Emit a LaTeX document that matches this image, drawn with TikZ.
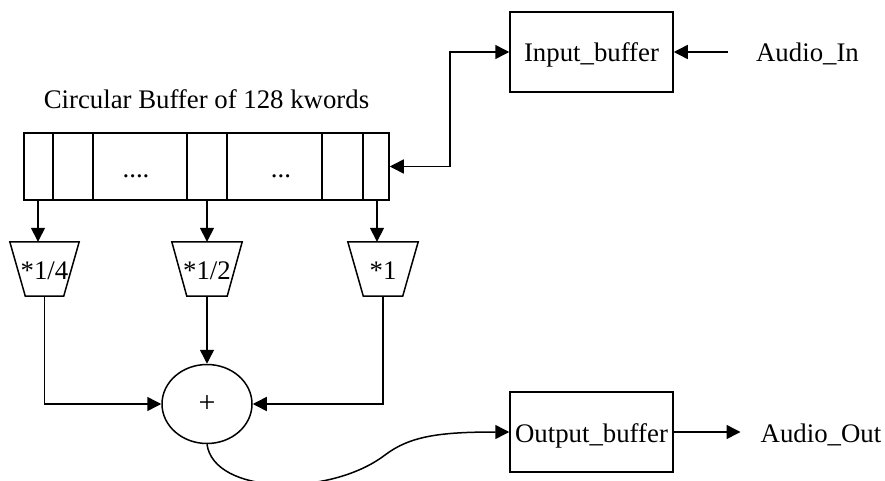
\documentclass[tikz,border=0pt]{standalone}
\usepackage{fontspec}
\setmainfont{Liberation Serif}
\usetikzlibrary{arrows.meta,shapes.geometric}
\tikzset{
  ln/.style={line width=1.5pt},
  box/.style={draw, ln, minimum width=163pt, minimum height=80pt, inner sep=0pt,
              text height=20pt, text depth=0pt},
  lbl/.style={inner sep=0pt, text height=20pt, text depth=0pt},
  gain/.style={inner sep=0pt, minimum height=54pt, text height=20pt, text depth=0pt},
  arr/.style={ln, -{Triangle[length=14pt,width=14pt]}},
  arrs/.style={ln, {Triangle[length=14pt,width=14pt]}-{Triangle[length=14pt,width=14pt]}},
}
\begin{document}
\begin{tikzpicture}[x=1pt, y=-1pt, font=\fontsize{26.8}{32}\selectfont]
\useasboundingbox (0,0) rectangle (885,481);

% circular buffer with its cells
\node[lbl, anchor=base] (title) at (206.5,109) {Circular Buffer of 128 kwords};
\node[draw, ln, minimum width=365pt, minimum height=67pt, inner sep=0pt] (buf) at (206.5,166.5) {};
\foreach \cx in {53,93,187,227,322,363}
  \draw[ln] (\cx,0 |- buf.north) -- (\cx,0 |- buf.south);
\node[inner sep=0pt, anchor=base] (dotsA) at (136,177) {....};
\node[inner sep=0pt, anchor=base] (dotsB) at (281,177) {...};

% input and output buffers
\node[box] (inbuf) at (591.5,52) {Input\_buffer};
\node[lbl] (ain) at (807.5,52) {Audio\_In};
\node[box] (outbuf) at (591.5,432) {Output\_buffer};
\node[lbl] (aout) at (821,432) {Audio\_Out};

% gain stages (trapezoids)
\node[gain, minimum width=69pt] (m1) at (44.5,269) {*1/4};
\node[gain, minimum width=70pt] (m2) at (207,269) {*1/2};
\node[gain, minimum width=70pt] (m3) at (383,269) {*1};
\draw[ln] (m1.north west) -- (m1.north east) -- ([xshift=-15.5pt]m1.south east)
          -- ([xshift=15.5pt]m1.south west) -- cycle;
\draw[ln] (m2.north west) -- (m2.north east) -- ([xshift=-15pt]m2.south east)
          -- ([xshift=15pt]m2.south west) -- cycle;
\draw[ln] (m3.north west) -- (m3.north east) -- ([xshift=-15.5pt]m3.south east)
          -- ([xshift=15.5pt]m3.south west) -- cycle;

% adder
\node[draw, ln, ellipse, minimum width=90pt, minimum height=79pt, inner sep=0pt,
      font=\fontsize{30}{34}\selectfont] (add) at (207,404) {+};

% connectors
\draw[arrs] (buf.east) -- ++(60,0) |- (inbuf.west);
\draw[arr] ([xshift=-28pt]ain.west) -- (inbuf.east);
\draw[arr] ([xshift=-6.5pt]m1.north |- buf.south) -- ([xshift=-6.5pt]m1.north);
\draw[arr] (m2.north |- buf.south) -- (m2.north);
\draw[arr] ([xshift=-6pt]m3.north |- buf.south) -- ([xshift=-6pt]m3.north);
\draw[arr] (m1.south) |- (add.west);
\draw[arr] (m2.south) -- (add.north);
\draw[arr] (m3.south) |- (add.east);
\draw[arr] (add.south) .. controls (214,495) and (330,497) .. (385,455)
           .. controls (410,436) and (440,432) .. (outbuf.west);
\draw[arr] (outbuf.east) -- ([xshift=-20pt]aout.west);
\end{tikzpicture}
\end{document}
